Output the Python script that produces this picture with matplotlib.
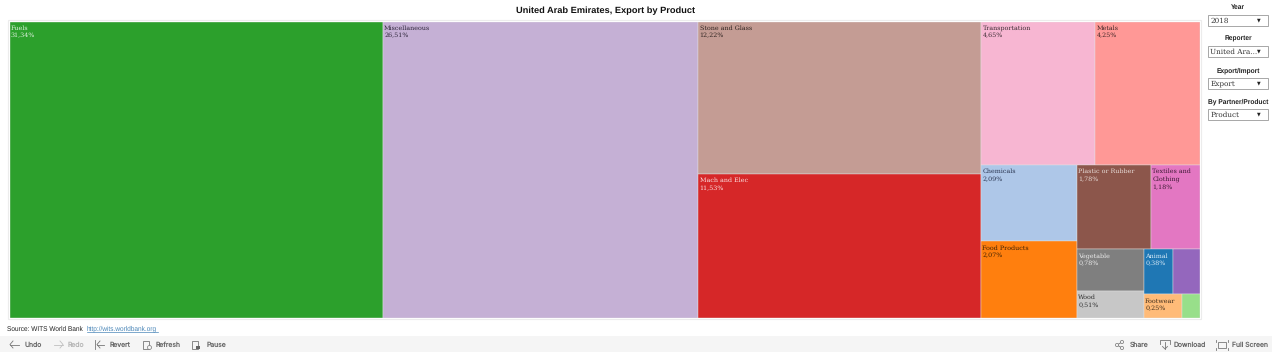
import matplotlib
matplotlib.use("Agg")
import matplotlib.pyplot as plt
from matplotlib.patches import Rectangle, Circle

plt.rcParams["text.hinting"] = "no_hinting"

W, H = 1280, 363
categories = ["Fuels", "Miscellaneous", "Stone and Glass", "Mach and Elec", "Transportation", "Metals",
              "Chemicals", "Food Products", "Plastic or Rubber", "Textiles and\nClothing", "Vegetable",
              "Wood", "Animal", "", "Footwear", ""]
values = [31.34, 26.51, 12.22, 11.53, 4.65, 4.25, 2.09, 2.07, 1.78, 1.18, 0.78, 0.51, 0.38, 0.34, 0.25, 0.12]
shown = [True] * 13 + [False, True, False]
colors = ["#2ca02c", "#c5b0d5", "#c49c94", "#d62728", "#f7b6d2", "#ff9896", "#aec7e8", "#ff7f0e",
          "#8c564b", "#e377c2", "#7f7f7f", "#c7c7c7", "#1f77b4", "#9467bd", "#ffbb78", "#98df8a"]
text_colors = ["#e4f2e4", "#2c2538", "#2e2320", "#fbe4e4", "#3a2b32", "#3d2525", "#2a3550", "#3d2003",
               "#e8dcd8", "#3d1a35", "#eeeeee", "#2e2e2e", "#dcecf7", "#ffffff", "#3d2c1c", "#ffffff"]
# slice-and-dice tree over indices into values
tree = [0, 1, [2, 3], [[4, 5], [[6, 7], [[8, 9], [[10, 11], [[12, 13], [14, 15]]]]]]]

title_label = "United Arab Emirates, Export by Product"
filters = [("Year", "2018"), ("Reporter", "United Ara..."), ("Export/Import", "Export"), ("By Partner/Product", "Product")]
left_actions = [("Undo", "#666666"), ("Redo", "#b5b5b5"), ("Revert", "#666666"), ("Refresh", "#666666"), ("Pause", "#666666")]
right_actions = ["Share", "Download", "Full Screen"]

def total(node):
    return values[node] if isinstance(node, int) else sum(total(c) for c in node)

def layout(node, x, y, w, h, horizontal, out):
    if isinstance(node, int):
        out[node] = (x, y, w, h)
        return
    t = total(node)
    top = y + h
    for c in node:
        f = total(c) / t
        if horizontal:
            layout(c, x, y, w * f, h, not horizontal, out)
            x += w * f
        else:
            # first child on top
            top -= h * f
            layout(c, x, top, w, h * f, not horizontal, out)

fig = plt.figure(figsize=(W / 100, H / 100), dpi=100, facecolor="white")

# pixel-space overlay for page furniture
bg = fig.add_axes([0, 0, 1, 1])
bg.set_xlim(0, W); bg.set_ylim(H, 0); bg.axis("off")
bg.add_patch(Rectangle((8, 20), 1193, 298.5, fc="white", ec="#ececec", lw=0.8))
bg.add_patch(Rectangle((0, 336), 1272, 16, fc="#f5f5f5", ec="none"))

# treemap
x0, y0, x1, y1 = 9.5, 21.5, 1200.0, 317.5
ax = fig.add_axes([x0 / W, 1 - y1 / H, (x1 - x0) / W, (y1 - y0) / H])
ax.set_xlim(0, 1); ax.set_ylim(0, 1); ax.axis("off")
ax.set_zorder(2)
rects = {}
layout(tree, 0, 0, 1, 1, True, rects)
for i, (x, y, w, h) in sorted(rects.items()):
    ax.add_patch(Rectangle((x, y), w, h, fc=colors[i], ec="#e4e4e4", lw=0.3))
    if shown[i]:
        ax.annotate(f"{categories[i]}\n{values[i]:.2f}%".replace(".", ","), xy=(x, y + h), xytext=(1.5, -3.5),
                    textcoords="offset pixels", va="top", ha="left", family="DejaVu Serif", fontsize=4.6,
                    color=text_colors[i], linespacing=1.5)

fig.text(605.5 / W, 1 - 10.5 / H, title_label, ha="center", va="center",
         family="Liberation Sans", fontweight="bold", fontsize=6.7, color="#111111")

# filter controls
for (lab, val), ty, by in zip(filters, [7, 39, 71, 102], [15, 46, 78, 109]):
    bg.text(1238, ty, lab, ha="center", va="center", family="Liberation Sans", fontweight="bold",
            fontsize=4.75, color="#222222")
    bg.add_patch(Rectangle((1208, by), 60, 10.5, fc="white", ec="#999999", lw=0.6))
    bg.text(1210.5, by + 5.5, val, ha="left", va="center", family="DejaVu Serif", fontsize=5.2, color="#333333")
    bg.text(1259, by + 5.5, "▼", ha="center", va="center", fontsize=3.4, color="#222222")

# source
bg.text(7, 329, "Source: WITS World Bank", ha="left", va="center", family="Liberation Sans", fontsize=4.7, color="#222222")
bg.text(87, 329, "http://wits.worldbank.org", ha="left", va="center", family="Liberation Sans", fontsize=4.7,
        color="#4a86b8")
bg.plot([87, 158], [332, 332], color="#4a86b8", lw=0.5)

# toolbar text
for (lab, c), tx in zip(left_actions, [25, 68, 110, 156, 207]):
    bg.text(tx, 344.5, lab, ha="left", va="center", family="Inter", fontsize=4.9, color=c)
for lab, tx in zip(right_actions, [1130, 1174, 1232]):
    bg.text(tx, 344.5, lab, ha="left", va="center", family="Inter", fontsize=4.9, color="#666666")

# toolbar icons
ic = dict(color="#777777", lw=0.6)
bg.plot([10, 19], [344.5, 344.5], **ic); bg.plot([13, 10, 13], [341, 344.5, 348], **ic)
bg.plot([54, 63], [344.5, 344.5], color="#c0c0c0", lw=0.6); bg.plot([60, 63, 60], [341, 344.5, 348], color="#c0c0c0", lw=0.6)
bg.plot([95, 95], [340, 349], **ic); bg.plot([97, 104], [344.5, 344.5], **ic); bg.plot([100, 97, 100], [341, 344.5, 348], **ic)
for px in (143, 192):
    bg.add_patch(Rectangle((px, 340.5), 6, 8, fc="none", ec="#777777", lw=0.6))
bg.add_patch(Circle((149.5, 347.5), 2, fc="#f5f5f5", ec="#777777", lw=0.5))
bg.add_patch(Rectangle((196, 345.5), 3.5, 3.5, fc="#666666", ec="none"))
for cx, cy in [(1117, 345), (1122, 342), (1122, 348)]:
    bg.add_patch(Circle((cx, cy), 1.6, fc="#f5f5f5", ec="#777777", lw=0.5, zorder=3))
bg.plot([1122, 1117, 1122], [342, 345, 348], **ic)
bg.plot([1160, 1160, 1170, 1170], [344, 340, 340, 344], **ic)
bg.plot([1165, 1165], [342, 349], **ic); bg.plot([1162.5, 1165, 1167.5], [346.5, 349, 346.5], **ic)
bg.add_patch(Rectangle((1218, 342), 8, 5.5, fc="none", ec="#777777", lw=0.6))
for a, c, d in [(1216, 342, 340), (1228, 342, 340), (1216, 349.5, 347.5), (1228, 349.5, 347.5)]:
    bg.plot([a, a], [c, d], **ic)

fig.savefig("out.png", dpi=100, facecolor="white")
